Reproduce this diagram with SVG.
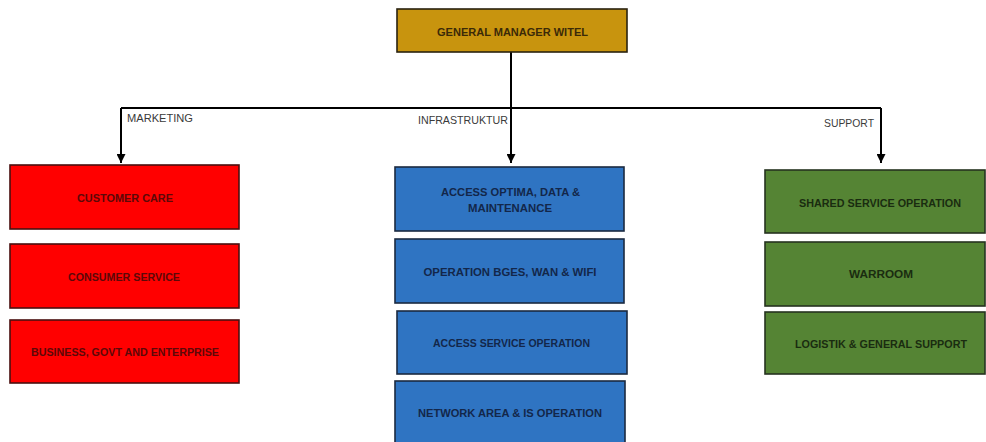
<svg xmlns="http://www.w3.org/2000/svg" width="986" height="442" viewBox="0 0 986 442">
  <defs>
    <marker id="arrow" viewBox="0 0 10 10" refX="10" refY="5" markerWidth="4.5" markerHeight="4.5" orient="auto" markerUnits="strokeWidth">
      <path d="M0,0 L10,5 L0,10 Z" fill="#000"/>
    </marker>
    <style>
      .box { stroke-width: 1.6; }
      .gm { fill: #C8940E; stroke: #2a2210; }
      .red { fill: #FF0000; stroke: #4a1010; }
      .blue { fill: #2F74C2; stroke: #1b2a40; }
      .green { fill: #558434; stroke: #263320; }
      .lbl { font-family: "Liberation Sans", Arial, sans-serif; font-weight: bold; font-size: 10.5px; text-anchor: middle; }
      .gm-t { fill: #3b2a08; }
      .red-t { fill: #5c0808; }
      .blue-t { fill: #13274a; }
      .green-t { fill: #1a2c10; }
      .branch { font-family: "Liberation Sans", Arial, sans-serif; font-size: 10.5px; fill: #3a3a3a; }
      .wire { fill: none; stroke: #000; stroke-width: 2; }
    </style>
  </defs>
  <rect width="986" height="442" fill="#fff"/>

  <!-- connectors -->
  <g id="connectors">
    <path class="wire" d="M511,52 V108"/>
    <path class="wire" d="M121,108 H881"/>
    <path class="wire" d="M121,108 V163" marker-end="url(#arrow)"/>
    <path class="wire" d="M511,108 V163" marker-end="url(#arrow)"/>
    <path class="wire" d="M881,108 V163" marker-end="url(#arrow)"/>
    <text class="branch" x="127" y="122" textLength="66" lengthAdjust="spacingAndGlyphs">MARKETING</text>
    <text class="branch" x="418" y="124" textLength="90" lengthAdjust="spacingAndGlyphs">INFRASTRUKTUR</text>
    <text class="branch" x="824" y="127" textLength="50" lengthAdjust="spacingAndGlyphs">SUPPORT</text>
  </g>

  <!-- top -->
  <g id="gm">
    <rect class="box gm" x="397" y="9" width="230" height="43"/>
    <text class="lbl gm-t" x="512.5" y="35.8" textLength="151" lengthAdjust="spacingAndGlyphs">GENERAL MANAGER WITEL</text>
  </g>

  <!-- marketing column -->
  <g id="customer-care">
    <rect class="box red" x="10" y="165" width="229" height="64"/>
    <text class="lbl red-t" x="125" y="201.8" textLength="96" lengthAdjust="spacingAndGlyphs">CUSTOMER CARE</text>
  </g>
  <g id="consumer-service">
    <rect class="box red" x="10" y="244" width="229" height="64"/>
    <text class="lbl red-t" x="124" y="280.8" textLength="112" lengthAdjust="spacingAndGlyphs">CONSUMER SERVICE</text>
  </g>
  <g id="business-govt-enterprise">
    <rect class="box red" x="10" y="320" width="229" height="63"/>
    <text class="lbl red-t" x="125" y="355.8" textLength="188" lengthAdjust="spacingAndGlyphs">BUSINESS, GOVT AND ENTERPRISE</text>
  </g>

  <!-- infrastruktur column -->
  <g id="access-optima">
    <rect class="box blue" x="395" y="167" width="229" height="64"/>
    <text class="lbl blue-t" x="510.5" y="195.8" textLength="139" lengthAdjust="spacingAndGlyphs">ACCESS OPTIMA, DATA &amp;</text>
    <text class="lbl blue-t" x="510" y="211.8" textLength="84" lengthAdjust="spacingAndGlyphs">MAINTENANCE</text>
  </g>
  <g id="operation-bges">
    <rect class="box blue" x="395" y="239" width="229" height="64"/>
    <text class="lbl blue-t" x="510" y="275.8" textLength="173" lengthAdjust="spacingAndGlyphs">OPERATION BGES, WAN &amp; WIFI</text>
  </g>
  <g id="access-service-operation">
    <rect class="box blue" x="397" y="311" width="230" height="63"/>
    <text class="lbl blue-t" x="511.5" y="346.8" textLength="157" lengthAdjust="spacingAndGlyphs">ACCESS SERVICE OPERATION</text>
  </g>
  <g id="network-area">
    <rect class="box blue" x="395" y="381" width="230" height="66"/>
    <text class="lbl blue-t" x="510" y="416.8" textLength="184" lengthAdjust="spacingAndGlyphs">NETWORK AREA &amp; IS OPERATION</text>
  </g>

  <!-- support column -->
  <g id="shared-service-operation">
    <rect class="box green" x="765" y="170" width="220" height="63"/>
    <text class="lbl green-t" x="880" y="206.8" textLength="162" lengthAdjust="spacingAndGlyphs">SHARED SERVICE OPERATION</text>
  </g>
  <g id="warroom">
    <rect class="box green" x="765" y="242" width="220" height="64"/>
    <text class="lbl green-t" x="881" y="277.8" textLength="64" lengthAdjust="spacingAndGlyphs">WARROOM</text>
  </g>
  <g id="logistik">
    <rect class="box green" x="765" y="312" width="220" height="62"/>
    <text class="lbl green-t" x="881" y="347.8" textLength="172" lengthAdjust="spacingAndGlyphs">LOGISTIK &amp; GENERAL SUPPORT</text>
  </g>
</svg>
